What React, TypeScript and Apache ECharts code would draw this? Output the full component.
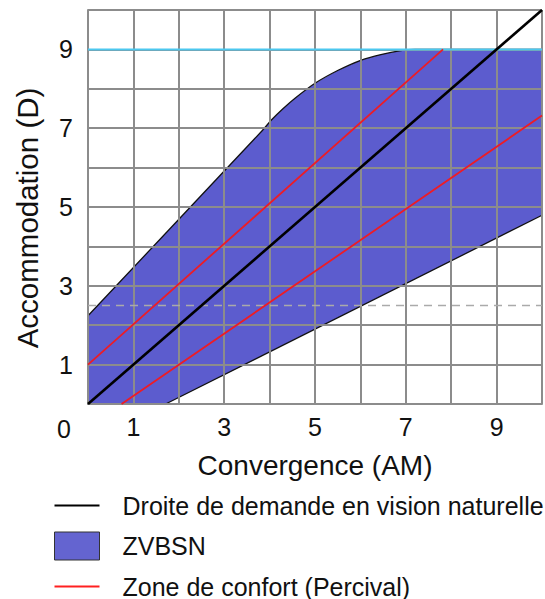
import React, { useEffect, useRef } from 'react';
import * as echarts from 'echarts';

// Tick labels (only odd values are labelled; the corner carries "0")
const xTickLabels = ['1', '3', '5', '7', '9'];
const yTickLabels = ['1', '3', '5', '7', '9'];
const cornerLabel = '0';

// Series values: [convergence (AM), accommodation (D)]
const demandLine = [[0, 0], [10, 10]];
const comfortUpper = [[0, 1], [7.82, 9]];
const comfortLower = [[0.74, 0], [10, 7.32]];
const zoneUpper = [
  [0, 2.24], [3.83, 6.93], [4.05, 7.22], [4.3, 7.5], [4.56, 7.76], [5.0, 8.14],
  [5.51, 8.47], [6.02, 8.73], [6.45, 8.87], [6.89, 8.97], [7.2, 9], [10, 9],
];
const zoneLower = [[1.71, 0], [10, 4.79]];
const zoneCorner = [[0, 0]];
const maxLine = [[0, 9], [10, 9]];
const refLine = [[0, 2.5], [10, 2.5]];

const NAME_DEMAND = 'Droite de demande en vision naturelle';
const NAME_ZONE = 'ZVBSN';
const NAME_COMFORT = 'Zone de confort (Percival)';

const FONT = '"Liberation Sans", Arial, Helvetica, sans-serif';
const FILL = '#5c5cce';
const GRID = '#8c8c8c';

export default function App() {
  const ref = useRef<HTMLDivElement>(null);
  useEffect(() => {
    document.body.style.margin = '0';
    const chart = echarts.init(ref.current!, null, { renderer: 'svg' });
    const zonePolygon = [...zoneUpper, ...[...zoneLower].reverse(), ...zoneCorner];
    const axisCommon = {
      type: 'value',
      min: 0,
      max: 10,
      interval: 1,
      z: 2,
      axisLine: { show: true, lineStyle: { color: GRID, width: 2 } },
      axisTick: { show: false },
      splitLine: { show: true, lineStyle: { color: GRID, width: 2 } },
    };
    chart.setOption({
      animation: false,
      textStyle: { fontFamily: FONT },
      grid: { left: 88, right: 1, top: 10, bottom: 195, containLabel: false },
      xAxis: {
        ...axisCommon,
        name: 'Convergence (AM)',
        nameLocation: 'middle',
        nameGap: 47,
        nameTextStyle: { fontFamily: FONT, fontSize: 28, color: '#111' },
        axisLabel: {
          fontFamily: FONT, fontSize: 25, color: '#111', margin: 10,
          formatter: (v: number) => (xTickLabels.includes(String(v)) ? String(v) : ''),
        },
      },
      yAxis: {
        ...axisCommon,
        name: 'Accommodation (D)',
        nameLocation: 'middle',
        nameRotate: 90,
        nameGap: 46,
        nameTextStyle: { fontFamily: FONT, fontSize: 29.5, color: '#111', padding: [0, 22, 0, 0] },
        axisLabel: {
          fontFamily: FONT, fontSize: 25, color: '#111', margin: 15,
          formatter: (v: number) => (yTickLabels.includes(String(v)) ? String(v) : ''),
        },
      },
      legend: {
        orient: 'vertical',
        left: 54,
        top: 493,
        height: 120,
        padding: 0,
        itemWidth: 45,
        itemHeight: 28,
        itemGap: 13.5,
        selectedMode: false,
        textStyle: { fontFamily: FONT, fontSize: 25, color: '#111', padding: [0, 0, 0, 18] },
        data: [
          { name: NAME_DEMAND, icon: 'path://M0,13L45,13L45,15L0,15Z', itemStyle: { color: '#000', borderWidth: 0 } },
          { name: NAME_ZONE, icon: 'rect', itemStyle: { color: '#6464d0', borderColor: '#333', borderWidth: 1 } },
          { name: NAME_COMFORT, icon: 'path://M0,13L45,13L45,15L0,15Z', itemStyle: { color: '#ff2020', borderWidth: 0 } },
        ],
      },
      graphic: [
        {
          type: 'text', left: 57, top: 416, z: 10,
          style: { text: cornerLabel, font: `25px ${FONT}`, fill: '#111' },
        },
      ],
      series: [
        {
          name: NAME_ZONE,
          type: 'custom',
          z: 1,
          color: FILL,
          itemStyle: { color: FILL },
          data: [[0, 0]],
          renderItem: (params: any, api: any) => {
            const pts = zonePolygon.map((p) => api.coord(p));
            const up = zoneUpper.map((p) => api.coord(p));
            const lo = zoneLower.map((p) => api.coord(p));
            return {
              type: 'group',
              children: [
                { type: 'polygon', shape: { points: pts }, style: { fill: FILL, stroke: null } },
                { type: 'polyline', shape: { points: up, smooth: 0.2 }, style: { stroke: '#111', lineWidth: 1.3, fill: null } },
                { type: 'polyline', shape: { points: lo }, style: { stroke: '#111', lineWidth: 1.3, fill: null } },
              ],
            };
          },
        },
        {
          name: 'refLine', type: 'line', z: 3, data: refLine, symbol: 'none', silent: true,
          lineStyle: { color: '#aaaaaa', width: 1.5, type: [8, 6] },
        },
        {
          name: 'maxLine', type: 'line', z: 3, data: maxLine, symbol: 'none', silent: true,
          lineStyle: { color: '#4cc8ef', width: 2 },
        },
        {
          name: NAME_COMFORT, type: 'line', z: 4, data: comfortUpper, symbol: 'none',
          color: '#ee1c25', lineStyle: { color: '#ee1c25', width: 1.8 },
        },
        {
          name: NAME_COMFORT, type: 'line', z: 4, data: comfortLower, symbol: 'none',
          color: '#ee1c25', lineStyle: { color: '#ee1c25', width: 1.8 },
        },
        {
          name: NAME_DEMAND, type: 'line', z: 5, data: demandLine, symbol: 'none',
          color: '#000', lineStyle: { color: '#000', width: 2.6 },
        },
      ],
    });
    return () => chart.dispose();
  }, []);
  return <div ref={ref} style={{ width: 545, height: 599 }} />;
}
